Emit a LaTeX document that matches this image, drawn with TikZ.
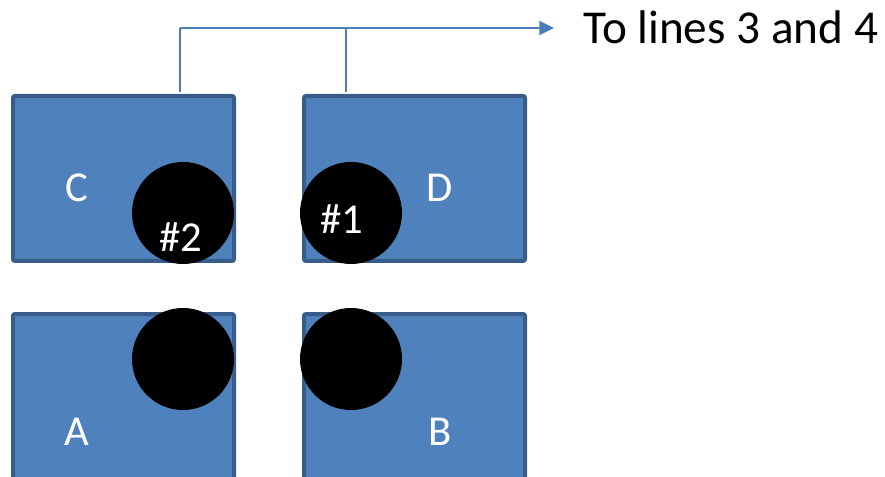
\documentclass[tikz,border=0pt]{standalone}
\usepackage{fontspec}
\setmainfont{Carlito}
\usetikzlibrary{arrows.meta}
\definecolor{boxfill}{HTML}{4F81BD}
\definecolor{boxline}{HTML}{385D8A}
\definecolor{conn}{HTML}{4A7EBB}
\begin{document}
\begin{tikzpicture}[x=0.75pt,y=-0.75pt,
  plate/.style={draw=boxline,fill=boxfill,line width=3pt,rounded corners=1.5pt,
    minimum width=221*0.75pt,minimum height=165*0.75pt,inner sep=0pt,anchor=north west},
  blob/.style={circle,fill=black,minimum size=102*0.75pt,inner sep=0pt},
  lbl/.style={text=white,font=\fontsize{32}{36}\selectfont,inner sep=0pt},
  conline/.style={draw=conn,line width=1.6pt}]
\useasboundingbox (0,0) rectangle (885,477);
% boxes
\node[plate] (C) at (11,94) {};
\node[plate] (D) at (302,94) {};
\node[plate] (A) at (11,312) {};
\node[plate] (B) at (302,312) {};
% circles
\node[blob] (c2) at (183,213) {};
\node[blob] (c1) at (351,213) {};
\node[blob] (ca) at (183,359) {};
\node[blob] (cb) at (351,359) {};
% labels
\node[lbl] (lC) at (77,188) {C};
\node[lbl] (lD) at (440,188) {D};
\node[lbl] (l2) at (181,237) {\#2};
\node[lbl] (l1) at (342,219) {\#1};
\node[lbl] (lA) at (77,432) {A};
\node[lbl] (lB) at (440,432) {B};
% connector
\coordinate (cTop) at (180,92);
\coordinate (dTop) at (346,92);
\coordinate (corner) at (180,28);
\coordinate (dJoin) at (346,28);
\node[anchor=west,inner sep=0pt,font=\fontsize{35.4}{40}\selectfont] (txt) at (583,27) {To lines 3 and 4};
\coordinate (tip) at (554,28);
\draw[conline] (cTop) -- (corner);
\draw[conline,-{Triangle[length=11pt,width=10.5pt]}] (corner) -- (tip);
\draw[conline] (dTop) -- (dJoin);
\end{tikzpicture}
\end{document}
